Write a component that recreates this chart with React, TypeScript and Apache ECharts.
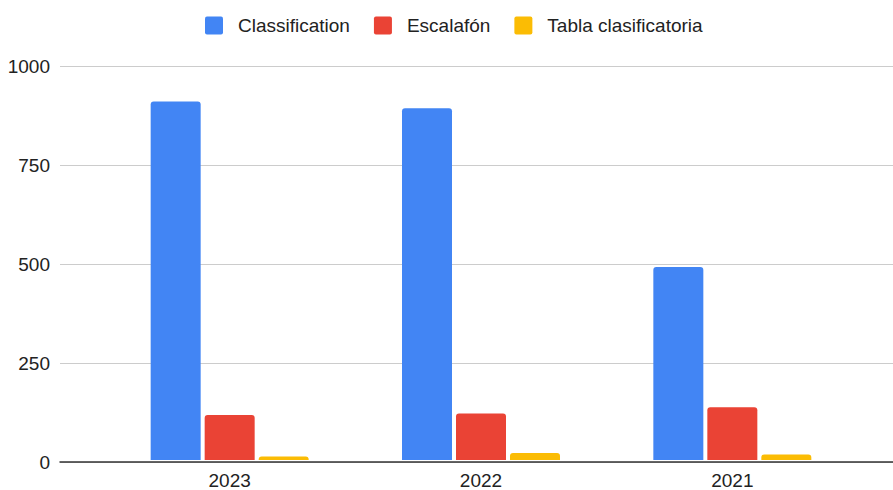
import React, { useEffect, useRef } from "react";
import * as echarts from "echarts";

const categories = ["2023", "2022", "2021"];
const classification = [910, 893, 490];
const escalafon = [114, 118, 134];
const tablaClasificatoria = [9, 18, 14];
const yTicks = [0, 250, 500, 750, 1000];

export default function App() {
  const ref = useRef<HTMLDivElement>(null);
  useEffect(() => {
    if (!ref.current) return;
    const chart = echarts.init(ref.current, undefined, { renderer: "svg" });
    const font = "Liberation Sans, Arial, sans-serif";
    const yMax = yTicks[yTicks.length - 1];
    const interval = yTicks[1] - yTicks[0];
    const icon = "path://M2,0 L16,0 Q18,0 18,2 L18,16 Q18,18 16,18 L2,18 Q0,18 0,16 L0,2 Q0,0 2,0 Z";
    chart.setOption({
      animation: false,
      textStyle: { fontFamily: font },
      legend: {
        top: 11,
        left: 200,
        itemWidth: 18,
        itemHeight: 18,
        itemGap: 24,
        icon,
        textStyle: { fontSize: 19, color: "#222", fontFamily: font, padding: [0, 0, 0, 10] },
        data: ["Classification", "Escalafón", "Tabla clasificatoria"],
      },
      grid: [
        { left: 60, right: 0, top: 66, bottom: 28 },
        { left: 104, right: 35, top: 66, bottom: 28 },
      ],
      xAxis: [
        {
          gridIndex: 0,
          type: "value",
          min: 0,
          max: 1,
          show: true,
          axisLine: { show: true, lineStyle: { color: "#333", width: 1.5 } },
          axisLabel: { show: false },
          axisTick: { show: false },
          splitLine: { show: false },
        },
        {
          gridIndex: 1,
          type: "category",
          data: categories,
          axisLine: { show: false },
          axisTick: { show: false },
          axisLabel: { fontSize: 19, color: "#222", margin: 11, fontFamily: font },
        },
      ],
      yAxis: [
        {
          gridIndex: 0,
          type: "value",
          min: 0,
          max: yMax,
          interval,
          axisLine: { show: false },
          axisTick: { show: false },
          axisLabel: {
            fontSize: 19,
            color: "#222",
            margin: 10,
            fontFamily: font,
            formatter: (v: number) => String(v),
          },
          splitLine: { show: true, lineStyle: { color: "#cccccc", width: 1 } },
        },
        {
          gridIndex: 1,
          type: "value",
          min: 0,
          max: yMax,
          interval,
          show: false,
          splitLine: { show: false },
        },
      ],
      series: [
        {
          name: "Classification",
          type: "bar",
          xAxisIndex: 1,
          yAxisIndex: 1,
          data: classification,
          barWidth: 50,
          barGap: "8%",
          itemStyle: { color: "#4285F4", borderRadius: [3, 3, 0, 0] },
        },
        {
          name: "Escalafón",
          type: "bar",
          xAxisIndex: 1,
          yAxisIndex: 1,
          data: escalafon,
          barWidth: 50,
          barGap: "8%",
          itemStyle: { color: "#EA4335", borderRadius: [3, 3, 0, 0] },
        },
        {
          name: "Tabla clasificatoria",
          type: "bar",
          xAxisIndex: 1,
          yAxisIndex: 1,
          data: tablaClasificatoria,
          barWidth: 50,
          barGap: "8%",
          itemStyle: { color: "#FBBC04", borderRadius: [3, 3, 0, 0] },
        },
      ],
    });
    return () => chart.dispose();
  }, []);
  return <div ref={ref} style={{ width: 893, height: 490, position: "absolute", left: 0, top: 0 }} />;
}
